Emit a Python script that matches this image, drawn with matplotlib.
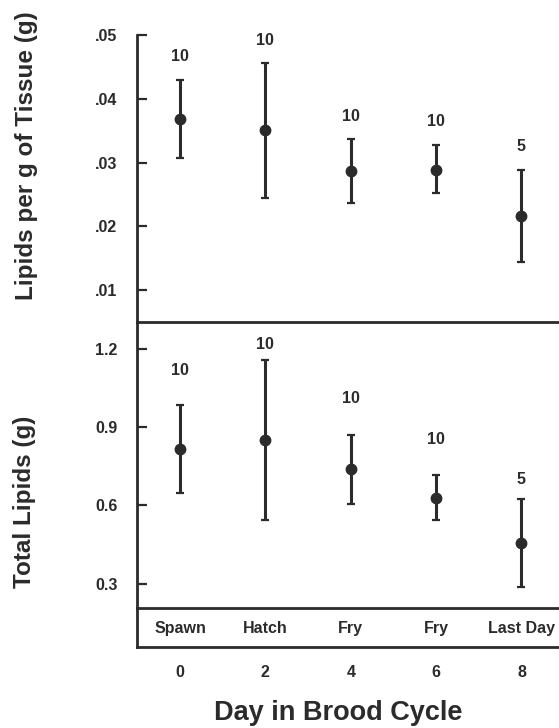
import matplotlib
matplotlib.use("Agg")
import matplotlib.pyplot as plt
from matplotlib.ticker import FuncFormatter
import numpy as np

plt.rcParams['font.family'] = ['Liberation Sans', 'DejaVu Sans']
plt.rcParams['font.weight'] = 'bold'

# ---- data ----
days = [0, 2, 4, 6, 8]
stage_labels = ["Spawn", "Hatch", "Fry", "Fry", "Last Day"]
n_samples = ["10", "10", "10", "10", "5"]

conc_mean = [0.0368, 0.0351, 0.0286, 0.0289, 0.0216]
conc_low = [0.0307, 0.0244, 0.0237, 0.0252, 0.0144]
conc_high = [0.0430, 0.0456, 0.0337, 0.0328, 0.0289]

total_mean = [0.817, 0.849, 0.738, 0.629, 0.456]
total_low = [0.649, 0.545, 0.606, 0.545, 0.289]
total_high = [0.986, 1.158, 0.871, 0.716, 0.624]
total_n_label_y = [1.117, 1.215, 1.009, 0.853, 0.698]

conc_ticks = [0.01, 0.02, 0.03, 0.04, 0.05]
total_ticks = [0.3, 0.6, 0.9, 1.2]

# ---- style ----
W, H = 559, 728
ink = '#2b2b2b'
fig = plt.figure(figsize=(W / 100, H / 100), dpi=100)

left = 137 / W
xlim = (-1.01, 8.88)

def fy(px):
    return 1 - px / H

ax1 = fig.add_axes([left, fy(322), 1 - left, fy(35) - fy(322)])
ax2 = fig.add_axes([left, fy(608), 1 - left, fy(322) - fy(608)])
ax3 = fig.add_axes([left, fy(647), 1 - left, fy(608) - fy(647)])

for ax in (ax1, ax2, ax3):
    ax.set_xlim(*xlim)
    ax.spines['right'].set_visible(False)
    ax.spines['top'].set_visible(False)
    for s in ('left', 'bottom'):
        ax.spines[s].set_linewidth(2.0)
        ax.spines[s].set_color(ink)
    ax.set_facecolor('none')

def draw_panel(ax, mean, low, high):
    mean = np.array(mean); low = np.array(low); high = np.array(high)
    ax.errorbar(days, mean, yerr=[mean - low, high - mean], fmt='o',
                color=ink, ms=7.5, elinewidth=2.2, capsize=3, capthick=1.6)

draw_panel(ax1, conc_mean, conc_low, conc_high)
ax1.set_ylim(0.005, 0.05)
ax1.set_yticks(conc_ticks)
ax1.yaxis.set_major_formatter(FuncFormatter(lambda v, p: f"{v:.2f}".lstrip('0')))
for d, hi, n in zip(days, conc_high, n_samples):
    ax1.annotate(n, (d, hi), xytext=(0, 16.5), textcoords='offset points',
                 ha='center', va='center', fontsize=11.5, fontweight='bold', color=ink)

draw_panel(ax2, total_mean, total_low, total_high)
ax2.set_ylim(0.207, 1.302)
ax2.set_yticks(total_ticks)
ax2.yaxis.set_major_formatter(FuncFormatter(lambda v, p: f"{v:.1f}"))
for d, yl, n in zip(days, total_n_label_y, n_samples):
    ax2.text(d, yl, n, ha='center', va='center', fontsize=11.5,
             fontweight='bold', color=ink)

for ax in (ax1, ax2):
    ax.tick_params(axis='y', direction='in', length=7, width=1.6, pad=14,
                   labelsize=11.5, colors=ink)
    ax.tick_params(axis='x', length=0, labelbottom=False)

ax3.set_ylim(0, 1)
ax3.set_yticks([])
ax3.set_xticks(days)
ax3.set_xticklabels([str(d) for d in days])
ax3.tick_params(axis='x', length=0, pad=13, labelsize=11.5, colors=ink)
for d, lab in zip(days, stage_labels):
    ax3.text(d, 0.47, lab, ha='center', va='center', fontsize=11.5,
             fontweight='bold', color=ink)

fig.text(27 / W, fy(156), "Lipids per g of Tissue (g)", rotation=90,
         ha='center', va='center', fontsize=17.5, fontweight='bold', color=ink)
fig.text(25 / W, fy(502), "Total Lipids (g)", rotation=90,
         ha='center', va='center', fontsize=17.5, fontweight='bold', color=ink)
fig.text(338 / W, fy(713), "Day in Brood Cycle", ha='center', va='center',
         fontsize=19.5, fontweight='bold', color=ink)

fig.savefig("out.png", dpi=100, facecolor='white')
